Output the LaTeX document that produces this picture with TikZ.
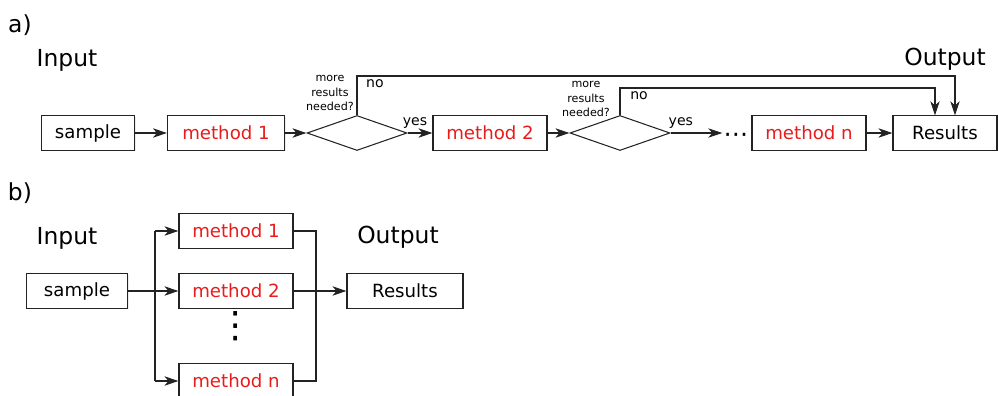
\documentclass[tikz,border=0pt]{standalone}
\usepackage{fontspec}
\setmainfont{DejaVu Sans}
\usetikzlibrary{shapes.geometric,arrows.meta,shadows}
\definecolor{methodred}{RGB}{232,28,28}
\definecolor{lineclr}{RGB}{35,35,35}
\tikzset{
  box/.style={draw=lineclr, line width=0.9pt, fill=white, minimum height=1.03cm, inner sep=2pt,
    font=\fontsize{15.5}{18}\selectfont,
    drop shadow={shadow xshift=1pt, shadow yshift=-1pt, opacity=0.15}},
  mbox/.style={box, text=methodred},
  decision/.style={diamond, draw=lineclr, line width=0.9pt, inner sep=0pt,
    minimum width=3cm, minimum height=1.05cm},
  arr/.style={draw=lineclr, line width=0.9pt, -{Stealth[length=12pt,width=8pt,inset=3.5pt]}},
  link/.style={draw=lineclr, line width=0.9pt},
  title/.style={font=\fontsize{20}{24}\selectfont},
  small/.style={font=\fontsize{9.5}{12}\selectfont, align=center},
  lbl/.style={font=\fontsize{12}{14}\selectfont}
}
\begin{document}
\begin{tikzpicture}[x=0.03cm, y=-0.03cm]
  \useasboundingbox (0,0) rectangle (999,396);
  % a) one method after the other
  \node[title] (tagA) at (20,25) {a)};
  \node[title] (inA) at (67,60) {Input};
  \node[title] (outA) at (945,59) {Output};
  \node[box, minimum width=2.79cm] (smpA) at (88,133) {sample};
  \node[mbox, minimum width=3.51cm] (m1A) at (226,133) {method 1};
  \node[decision] (d1) at (357,133) {};
  \node[mbox, minimum width=3.42cm] (m2A) at (490,133) {method 2};
  \node[decision] (d2) at (620,133) {};
  \node[inner sep=1pt, font=\fontsize{21}{23}\selectfont] (dotsA) at (736,138) {⋯};
  \node[mbox, minimum width=3.42cm] (mnA) at (809,133) {method n};
  \node[box, minimum width=3.12cm] (resA) at (945,133) {Results};
  \node[small] (q1) at (330,93) {more\\results\\needed?};
  \node[small] (q2) at (586,99) {more\\results\\needed?};
  \node[lbl] (no1) at (375,84) {no};
  \node[lbl] (no2) at (639,96) {no};
  \coordinate (noA1) at (955,76);
  \coordinate (noA2) at (935,88);
  \draw[arr] (smpA) -- (m1A);
  \draw[arr] (m1A) -- (d1);
  \draw[arr] (d1) -- node[lbl, above, pos=0.3]{yes} (m2A);
  \draw[arr] (m2A) -- (d2);
  \draw[arr] (d2) -- node[lbl, above, pos=0.2]{yes} (dotsA.west |- d2);
  \draw[arr] (mnA) -- (resA);
  \draw[arr] (d1.north) |- (noA1) -- (noA1 |- resA.north);
  \draw[arr] (d2.north) |- (noA2) -- (noA2 |- resA.north);
  % b) all methods side by side
  \node[title] (tagB) at (20,193) {b)};
  \node[title] (inB) at (67,238) {Input};
  \node[title] (outB) at (398,237) {Output};
  \node[box, minimum width=3.03cm] (smpB) at (77,291) {sample};
  \node[mbox, minimum width=3.42cm] (m1B) at (236,231) {method 1};
  \node[mbox, minimum width=3.42cm] (m2B) at (236,291) {method 2};
  \node[font=\fontsize{31}{33}\selectfont] (vdotsB) at (236,326) {⋮};
  \node[mbox, minimum width=3.42cm] (mnB) at (236,381) {method n};
  \node[box, minimum width=3.48cm] (resB) at (405,291) {Results};
  \coordinate (busL) at (155,291);
  \coordinate (busR) at (316,291);
  \draw[link] (busL |- m1B) -- (busL |- mnB);
  \draw[arr] (busL |- m1B) -- (m1B);
  \draw[arr] (busL |- mnB) -- (mnB);
  \draw[arr] (smpB) -- (m2B);
  \draw[link] (m1B.east) -- (busR |- m1B) -- (busR |- mnB) -- (mnB.east);
  \draw[arr] (m2B) -- (resB);
\end{tikzpicture}
\end{document}
